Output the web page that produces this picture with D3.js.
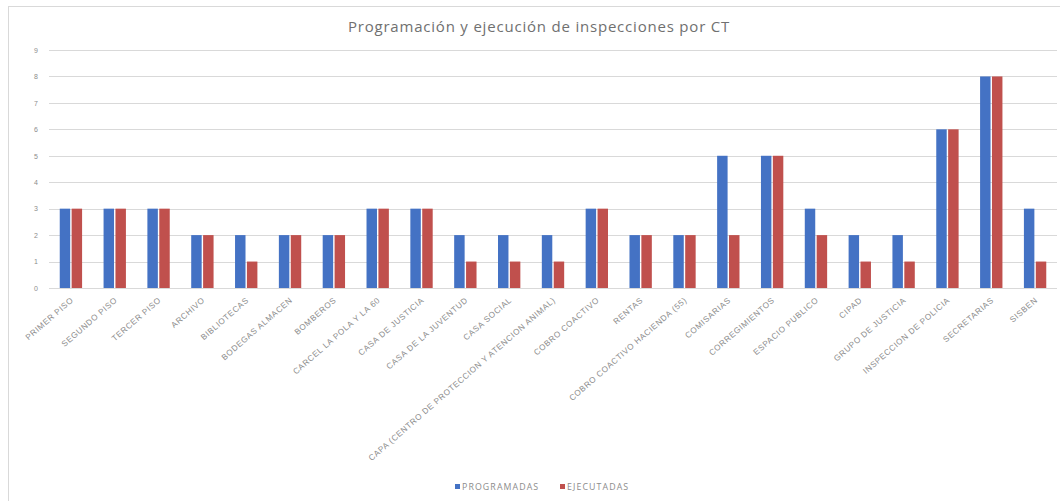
<!DOCTYPE html>
<html>
<head>
<meta charset="utf-8">
<script src="https://cdn.jsdelivr.net/npm/d3@7"></script>
<style>
  body { margin: 0; background: #fff; }
  svg { display: block; font-family: "Open Sans", "Liberation Sans", sans-serif; }
</style>
</head>
<body>
<div id="chart"></div>
<script>
// data
const categories = [
  "PRIMER PISO", "SEGUNDO PISO", "TERCER PISO", "ARCHIVO", "BIBLIOTECAS",
  "BODEGAS ALMACEN", "BOMBEROS", "CARCEL LA POLA Y LA 60", "CASA DE JUSTICIA",
  "CASA DE LA JUVENTUD", "CASA SOCIAL", "CAPA (CENTRO DE PROTECCION Y ATENCION ANIMAL)",
  "COBRO COACTIVO", "RENTAS", "COBRO COACTIVO HACIENDA (55)", "COMISARIAS",
  "CORREGIMIENTOS", "ESPACIO PUBLICO", "CIPAD", "GRUPO DE JUSTICIA",
  "INSPECCION DE POLICIA", "SECRETARIAS", "SISBEN"
];
const programadas = [3, 3, 3, 2, 2, 2, 2, 3, 3, 2, 2, 2, 3, 2, 2, 5, 5, 3, 2, 2, 6, 8, 3];
const ejecutadas  = [3, 3, 3, 2, 1, 2, 2, 3, 3, 1, 1, 1, 3, 2, 2, 2, 5, 2, 1, 1, 6, 8, 1];
const seriesNames = ["PROGRAMADAS", "EJECUTADAS"];
const yTicks = [0, 1, 2, 3, 4, 5, 6, 7, 8, 9];

const colors = ["#4472C4", "#C0504D"];
const width = 1060, height = 501;

const rows = categories.map((c, i) => ({ name: c, values: [programadas[i], ejecutadas[i]] }));

const svg = d3.select("#chart").append("svg")
  .attr("width", width)
  .attr("height", height);

// chart area border
svg.append("rect")
  .attr("x", 8.5).attr("y", 6.5)
  .attr("width", width + 10).attr("height", height)
  .attr("fill", "#fff")
  .attr("stroke", "#d9d9d9");

const x = d3.scaleBand()
  .domain(categories)
  .range([49, 1057])
  .paddingInner(0.49)
  .paddingOuter(0.245);

const x1 = d3.scaleBand()
  .domain([0, 1])
  .range([0, x.bandwidth()])
  .paddingInner(0.12);

const y = d3.scaleLinear()
  .domain([0, 9])
  .range([288, 50]);

// gridlines
svg.append("g")
  .selectAll("line")
  .data(yTicks)
  .join("line")
  .attr("x1", 49).attr("x2", 1057)
  .attr("y1", d => Math.round(y(d)) + 0.5)
  .attr("y2", d => Math.round(y(d)) + 0.5)
  .attr("stroke", "#d9d9d9");

// y axis labels
const yAxis = svg.append("g")
  .attr("transform", "translate(38,0)")
  .call(d3.axisLeft(y).tickValues(yTicks).tickSize(0).tickPadding(0));
yAxis.select(".domain").remove();
yAxis.selectAll("text")
  .attr("fill", "#8c8c8c")
  .style("font-size", "7px");

// bars
const groups = svg.append("g")
  .selectAll("g")
  .data(rows)
  .join("g")
  .attr("transform", d => "translate(" + x(d.name) + ",0)");

groups.selectAll("rect")
  .data(d => d.values.map((v, i) => ({ v, i })))
  .join("rect")
  .attr("x", d => x1(d.i))
  .attr("width", x1.bandwidth())
  .attr("y", d => y(d.v))
  .attr("height", d => y(0) - y(d.v))
  .attr("fill", d => colors[d.i]);

// x axis labels, rotated
const xAxis = svg.append("g")
  .attr("transform", "translate(0," + y(0) + ")")
  .call(d3.axisBottom(x).tickSize(0).tickPadding(0));
xAxis.select(".domain").remove();
xAxis.selectAll("text")
  .attr("fill", "#8c8c8c")
  .style("font-size", "8.2px")
  .style("letter-spacing", "0.6px")
  .attr("text-anchor", "end")
  .attr("dy", null)
  .attr("y", 0)
  .attr("transform", "translate(3,13) rotate(-41)");

// title
svg.append("text")
  .attr("x", 539)
  .attr("y", 32)
  .attr("text-anchor", "middle")
  .attr("fill", "#707070")
  .style("font-size", "15px")
  .style("letter-spacing", "0.8px")
  .text("Programación y ejecución de inspecciones por CT");

// legend
const legend = svg.append("g")
  .attr("transform", "translate(455,490)");
const li = legend.selectAll("g")
  .data(seriesNames)
  .join("g")
  .attr("transform", (d, i) => "translate(" + (i * 105) + ",0)");
li.append("rect")
  .attr("x", 0).attr("y", -6)
  .attr("width", 5).attr("height", 5)
  .attr("fill", (d, i) => colors[i]);
li.append("text")
  .attr("x", 7)
  .attr("y", 0)
  .attr("fill", "#8c8c8c")
  .style("font-size", "8.8px")
  .style("letter-spacing", "1.1px")
  .text(d => d);
</script>
</body>
</html>
